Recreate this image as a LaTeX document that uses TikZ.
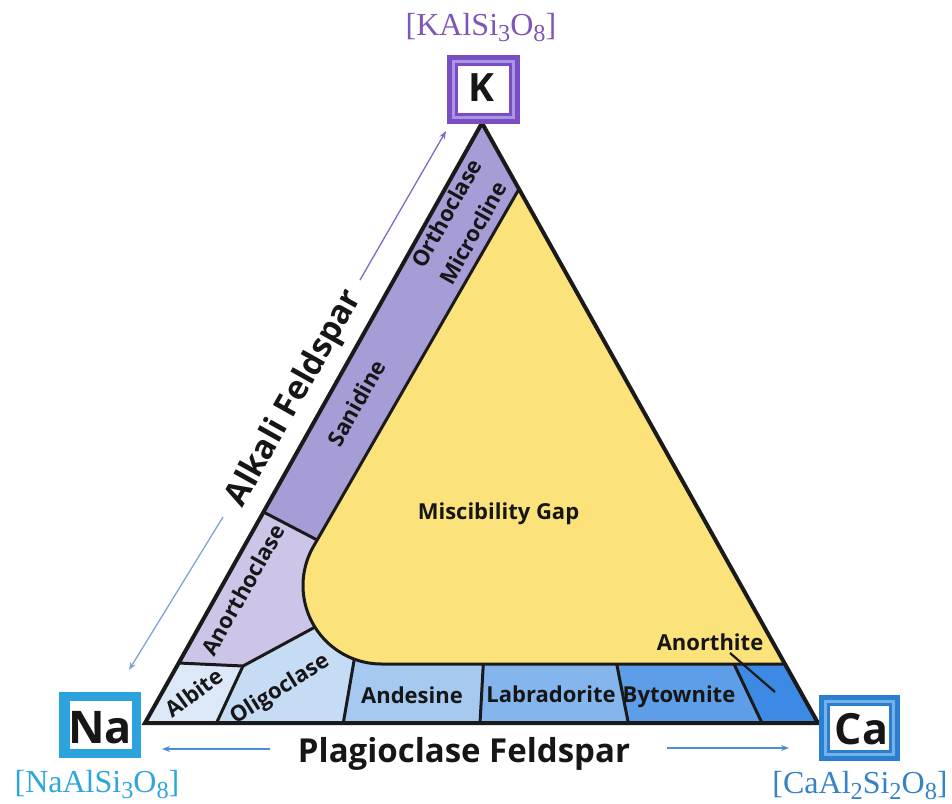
\documentclass[tikz,border=0pt]{standalone}
\usepackage{fontspec}
\usepackage{graphicx}
\setmainfont{Open Sans}
\newfontfamily\serf{Liberation Serif}
\usetikzlibrary{arrows.meta}
\definecolor{sancol}{HTML}{A69DD6}
\definecolor{anocol}{HTML}{CDC5E8}
\definecolor{yelcol}{HTML}{FCE27B}
\definecolor{albcol}{HTML}{DCE8F8}
\definecolor{oligcol}{HTML}{C6DCF5}
\definecolor{andcol}{HTML}{A6C9F0}
\definecolor{labcol}{HTML}{84B5EC}
\definecolor{bytcol}{HTML}{5E9DE8}
\definecolor{anthcol}{HTML}{3D8AE5}
\definecolor{linecol}{HTML}{1A1A1A}
\definecolor{txtcol}{HTML}{161616}
\definecolor{kpur}{HTML}{7A4EC2}
\definecolor{klav}{HTML}{A895E3}
\definecolor{cablue}{HTML}{2B7FD1}
\definecolor{calight}{HTML}{74B2EC}
\definecolor{nablue}{HTML}{2CA3DD}
\definecolor{kform}{HTML}{7E56B8}
\definecolor{naform}{HTML}{2EA6DA}
\definecolor{caform}{HTML}{3483C8}
\definecolor{plarr}{HTML}{4A8ED6}
\definecolor{alkup}{HTML}{8666C6}
\definecolor{alkdn}{HTML}{7FA3D8}
\newcommand\fsb[1]{\raisebox{-0.2em}{\scalebox{0.76}{#1}}}
\begin{document}
\begin{tikzpicture}[x=1pt,y=-1pt,
  edge/.style={draw=linecol, line width=3pt, line join=round},
  lab/.style={font=\bfseries\fontsize{22}{22}\selectfont, text=txtcol, inner sep=0pt, text height=15.7pt, text depth=0pt},
  biglab/.style={font=\bfseries\fontsize{33}{33}\selectfont, text=txtcol, inner sep=0pt, text height=23.6pt, text depth=0pt},
  vert/.style={font=\bfseries, text=txtcol, inner sep=0pt, anchor=base},
  form/.style={font=\serf\fontsize{32}{32}\selectfont, inner sep=0pt, anchor=base},
  arr/.style={line width=1.3pt, -{Stealth[length=8pt,width=6pt]}},
]
\useasboundingbox (0,0) rectangle (952,803);
% main vertices
\coordinate (Na) at (145,723);
\coordinate (K) at (482,123);
\coordinate (Ca) at (818,723);
% strip and gap geometry
\coordinate (T) at (519,189);
\coordinate (S1) at (263.5,512);
\coordinate (S2) at (317.2,540);
\coordinate (Tg) at (313.45,546.45);
\coordinate (P) at (314.92,627.12);
\coordinate (D) at (354.28,659.15);
\coordinate (B0) at (381.45,664);
\coordinate (R0) at (785,664);
\coordinate (A1) at (178.7,663);
\coordinate (A2) at (243,666);
\coordinate (Ab) at (216.5,723);
\coordinate (Ob) at (343.3,723);
\coordinate (L1t) at (483.3,664);
\coordinate (L1b) at (480,723);
\coordinate (L2t) at (616.7,664);
\coordinate (L2b) at (628.3,723);
\coordinate (L3t) at (734,664);
\coordinate (L3b) at (762,723);

\begin{scope}
\clip (Na) -- (K) -- (Ca) -- cycle;
\fill[sancol] (Na) -- (K) -- (Ca) -- cycle;
\fill[anocol] (S1) -- (S2) -- (400,600) -- (P) -- (A2) -- (A1) -- cycle;
\fill[albcol] (A1) -- (A2) -- (Ab) -- (Na) -- cycle;
\fill[oligcol] (A2) -- (P) -- (370,620) -- (D) -- (Ob) -- (Ab) -- cycle;
\fill[andcol] (D) -- (380,640) -- (483.3,640) -- (L1t) -- (L1b) -- (Ob) -- cycle;
\fill[labcol] (483.3,650) -- (616.7,650) -- (L2t) -- (L2b) -- (L1b) -- (L1t) -- cycle;
\fill[bytcol] (616.7,650) -- (734,650) -- (L3t) -- (L3b) -- (L2b) -- (L2t) -- cycle;
\fill[anthcol] (734,650) -- (840,650) -- (840,723) -- (L3b) -- (L3t) -- cycle;
\fill[yelcol] (T) -- (R0) -- (B0) -- plot[domain=90:209.9, samples=50, variable=\t] ({381.45+78.45*cos(\t)},{585.55+78.45*sin(\t)}) -- (Tg) -- cycle;
\end{scope}

% boundaries
\draw[edge] (T) -- (Tg) -- plot[domain=209.9:90, samples=50, variable=\t] ({381.45+78.45*cos(\t)},{585.55+78.45*sin(\t)}) -- (R0);
\draw[edge] (S1) -- (S2);
\draw[edge] (A1) -- (A2) -- (P);
\draw[edge] (A2) -- (Ab);
\draw[edge] (D) -- (Ob);
\draw[edge] (L1t) -- (L1b);
\draw[edge] (L2t) -- (L2b);
\draw[edge] (L3t) -- (L3b);
\draw[draw=linecol, line width=4pt, line join=miter] (Na) -- (K) -- (Ca) -- cycle;

% labels inside
\node[lab, rotate=60.7] (orth) at (446.7,213.3) {Orthoclase};
\node[lab, rotate=60.7] (micr) at (473.3,233.3) {Microcline};
\node[lab, rotate=60.7] (sani) at (356.7,403.3) {Sanidine};
\node[lab, rotate=60.7] (anoc) at (243.3,590) {Anorthoclase};
\node[lab, rotate=36] (albi) at (194,693) {Albite};
\node[lab, rotate=32] (olig) at (279,688) {Oligoclase};
\node[lab] (ande) at (412,696) {Andesine};
\node[lab] (labr) at (551,695) {Labradorite};
\node[lab] (byto) at (679,695) {Bytownite};
\node[lab] (anth) at (710,643) {Anorthite};
\node[lab] (misc) at (498.5,512) {Miscibility Gap};
\coordinate (ap1) at (730,653);
\coordinate (ap2) at (775,692);
\draw[draw=linecol, line width=2.2pt] (ap1) -- (ap2);

% big labels and arrows
\node[biglab, rotate=60.7] (alk) at (292,397) {Alkali Feldspar};
\node[biglab] (plag) at (464,751) {Plagioclase Feldspar};
\coordinate (au1) at (360,280);
\coordinate (au2) at (446,131);
\coordinate (al1) at (223,517);
\coordinate (al2) at (129,670);
\coordinate (pl1) at (270,749);
\coordinate (pl2) at (162,749);
\coordinate (pr1) at (667,748);
\coordinate (pr2) at (789,748);
\draw[arr, alkup] (au1) -- (au2);
\draw[arr, alkdn] (al1) -- (al2);
\draw[arr, plarr] (pl1) -- (pl2);
\draw[arr, plarr] (pr1) -- (pr2);

% K box
\fill[kpur] (447,55) rectangle (520,124);
\fill[klav] (452,60) rectangle (515,119);
\fill[kpur] (455,63) rectangle (512,116);
\fill[white] (458,66) rectangle (509,113);
\node[vert, font=\bfseries\fontsize{39}{39}\selectfont] (Kt) at (481.5,101.5) {K};
% Na box
\fill[nablue] (59,692) rectangle (141,758);
\fill[white] (70,701) rectangle (131.5,748.5);
\node[vert, font=\bfseries\fontsize{45}{45}\selectfont] (Nat) at (100,743) {Na};
% Ca box
\fill[cablue] (819,695) rectangle (900,761);
\fill[calight] (823.7,699.7) rectangle (895.3,756.3);
\fill[cablue] (827,703) rectangle (892,753);
\fill[white] (830.3,706.3) rectangle (888.7,749.7);
\node[vert, font=\bfseries\fontsize{43}{43}\selectfont] (Cat) at (861.5,744.5) {Ca};

% formulas
\node[form, text=kform] (Kf) at (481,35) {[KAlSi\fsb{3}O\fsb{8}]};
\node[form, text=naform] (Naf) at (97,792) {[NaAlSi\fsb{3}O\fsb{8}]};
\node[form, text=caform] (Caf) at (860,793) {[CaAl\fsb{2}Si\fsb{2}O\fsb{8}]};
\end{tikzpicture}
\end{document}
